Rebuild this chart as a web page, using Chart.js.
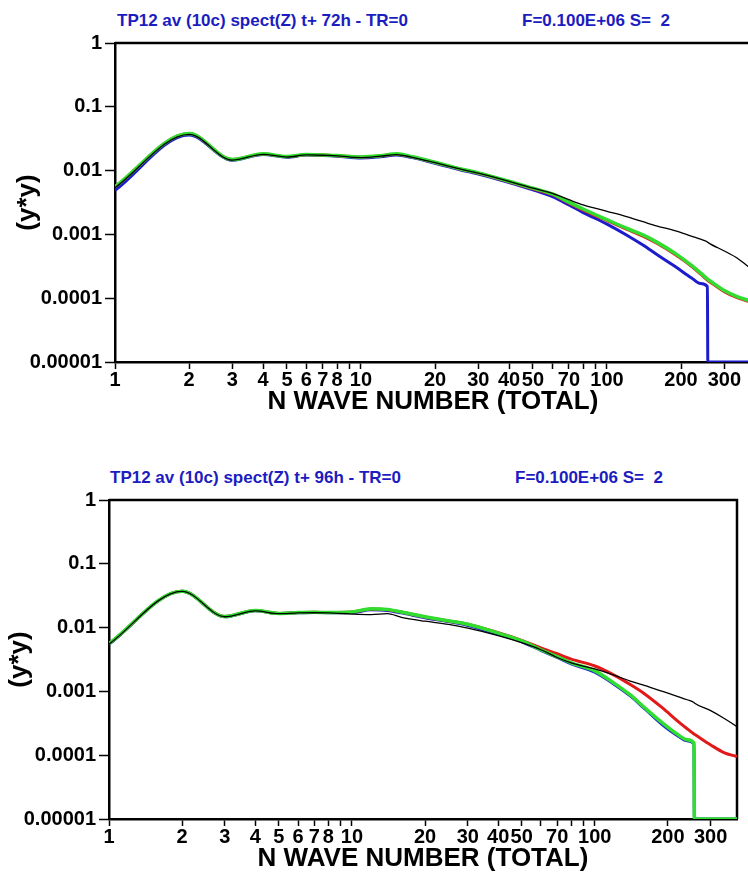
<!DOCTYPE html>
<html>
<head>
<meta charset="utf-8">
<script src="https://cdn.jsdelivr.net/npm/chart.js@4.4.1/dist/chart.umd.min.js"></script>
<style>
  html, body { margin: 0; padding: 0; background: #fff; width: 748px; height: 873px; overflow: hidden; }
  .panel { position: absolute; left: 0; }
  .ttl { position: absolute; color: #1c1cc0; font: bold 17px "Liberation Sans", Arial, sans-serif; line-height: 17px; white-space: pre; }
</style>
</head>
<body>
<div class="ttl" style="left:117px; top:12px">TP12 av (10c) spect(Z) t+ 72h - TR=0</div>
<div class="ttl" style="left:522px; top:12px">F=0.100E+06 S=  2</div>
<div class="ttl" style="left:110px; top:469px">TP12 av (10c) spect(Z) t+ 96h - TR=0</div>
<div class="ttl" style="left:515px; top:469px">F=0.100E+06 S=  2</div>

<div class="panel" style="top:0"><canvas id="c72" width="756" height="422"></canvas></div>
<div class="panel" style="top:457px"><canvas id="c96" width="745" height="422"></canvas></div>

<script>
// wave numbers sampled along the curves
const waveN = [1, 2, 3, 4, 5, 6, 7, 8, 10, 12, 14, 16, 20, 25, 30, 40, 50, 60, 70, 80,
               100, 120, 140, 160, 190, 220, 240, 256, 257, 300, 340, 385];

// t+72h
const black72 = [0.0054, 0.037, 0.0146, 0.0180, 0.0163, 0.0176, 0.0174, 0.0170, 0.0160, 0.0168, 0.0178, 0.0163, 0.0133, 0.0107, 0.0091, 0.0068, 0.0053, 0.0044, 0.0035, 0.0029,
                 0.0023, 0.0019, 0.00158, 0.00135, 0.00114, 0.00094, 0.00084, 0.00076, 0.00075, 0.00055, 0.00042, 0.00029];
const green72 = [0.0056, 0.038, 0.0149, 0.0183, 0.0166, 0.0178, 0.0176, 0.0172, 0.0164, 0.0171, 0.0183, 0.0166, 0.0135, 0.0108, 0.0092, 0.0068, 0.0053, 0.0043, 0.0032, 0.0025,
                 0.0017, 0.00125, 0.00098, 0.00075, 0.00050, 0.00033, 0.00025, 0.00020, 0.000198, 0.000132, 0.000105, 0.000090];
const red72   = [0.0056, 0.038, 0.0149, 0.0182, 0.0165, 0.0177, 0.0175, 0.0171, 0.0163, 0.0170, 0.0181, 0.0165, 0.0134, 0.0107, 0.0091, 0.0067, 0.0052, 0.0042, 0.0031, 0.0024,
                 0.00165, 0.00121, 0.00094, 0.00072, 0.00048, 0.00032, 0.00024, 0.000192, 0.00019, 0.000127, 0.000101, 0.000087];
const blue72  = [0.0049, 0.036, 0.0145, 0.0179, 0.0162, 0.0175, 0.0172, 0.0168, 0.0158, 0.0165, 0.0175, 0.0161, 0.0130, 0.0104, 0.0088, 0.0065, 0.0050, 0.0039, 0.0029, 0.0022,
                 0.00145, 0.00098, 0.00068, 0.00048, 0.00031, 0.00021, 0.00017, 0.000152, 0.00001, 0.00001, 0.00001, 0.00001];

// t+96h
const black96 = [0.0055, 0.037, 0.0148, 0.0183, 0.0165, 0.0170, 0.0171, 0.0170, 0.0163, 0.0160, 0.0165, 0.0145, 0.0126, 0.0112, 0.0098, 0.0075, 0.0058, 0.0045, 0.0034, 0.0028,
                 0.00225, 0.0018, 0.00145, 0.00124, 0.00100, 0.00083, 0.00074, 0.00067, 0.00066, 0.00050, 0.00038, 0.00028];
const green96 = [0.0056, 0.037, 0.0149, 0.0185, 0.0167, 0.0172, 0.0174, 0.0172, 0.0176, 0.0198, 0.0193, 0.0176, 0.0148, 0.0128, 0.0113, 0.0082, 0.0062, 0.0045, 0.0035, 0.0028,
                 0.0021, 0.00135, 0.00088, 0.00056, 0.00032, 0.00021, 0.000175, 0.000155, 0.00001, 0.00001, 0.00001, 0.00001];
const red96   = [0.0056, 0.037, 0.0149, 0.0185, 0.0167, 0.0172, 0.0174, 0.0172, 0.0175, 0.0196, 0.0191, 0.0175, 0.0147, 0.0127, 0.0113, 0.0083, 0.0063, 0.0048, 0.0039, 0.0032,
                 0.0025, 0.0018, 0.00128, 0.00092, 0.00055, 0.00034, 0.00026, 0.000215, 0.000213, 0.000145, 0.00011, 0.000095];
const blue96  = [0.0055, 0.037, 0.0148, 0.0184, 0.0166, 0.0171, 0.0173, 0.0171, 0.0172, 0.0190, 0.0186, 0.0170, 0.0143, 0.0124, 0.0108, 0.0079, 0.0060, 0.0044, 0.0034, 0.0027,
                 0.0020, 0.0013, 0.00085, 0.00054, 0.00030, 0.000200, 0.000168, 0.000150, 0.00001, 0.00001, 0.00001, 0.00001];

// axes
const xTicks = [1, 2, 3, 4, 5, 6, 7, 8, 9, 10, 20, 30, 40, 50, 60, 70, 80, 90, 100, 200, 300];
const xLabelled = [1, 2, 3, 4, 5, 6, 7, 8, 10, 20, 30, 40, 50, 70, 100, 200, 300];
const yTicks = [0.00001, 0.0001, 0.001, 0.01, 0.1, 1];
const yTickLabels = ['0.00001', '0.0001', '0.001', '0.01', '0.1', '1'];

const FAMILY = '"Liberation Sans", Arial, Helvetica, sans-serif';
const TICK_FONT = { family: FAMILY, weight: 'bold', size: 20 };
const AXIS_FONT = { family: FAMILY, weight: 'bold', size: 26 };
const BLUE = 'rgb(28, 28, 205)';
const GREEN = 'rgb(48, 222, 48)';
const RED = 'rgb(225, 25, 25)';

// top and right edges of the plot frame
const framePlugin = {
  id: 'frame',
  beforeDatasetsDraw(chart) {
    const { ctx, chartArea: a } = chart;
    ctx.save();
    ctx.strokeStyle = '#000';
    ctx.lineWidth = 2.5;
    ctx.beginPath();
    ctx.moveTo(a.left, a.top);
    ctx.lineTo(a.right, a.top);
    ctx.lineTo(a.right, a.bottom);
    ctx.stroke();
    ctx.restore();
  }
};

function spectrumChart(id, s, lay) {
  const pts = vals => waveN.map((n, i) => ({ x: n, y: vals[i] }));
  return new Chart(document.getElementById(id), {
    type: 'line',
    data: {
      datasets: [
        { data: pts(s.black), borderColor: '#000', borderWidth: 1.3 },
        { data: pts(s.green), borderColor: GREEN, borderWidth: 3.5 },
        { data: pts(s.red), borderColor: RED, borderWidth: 3 },
        { data: pts(s.blue), borderColor: BLUE, borderWidth: 3 },
      ]
    },
    options: {
      responsive: false,
      animation: false,
      devicePixelRatio: 1,
      layout: { padding: { top: 43, right: lay.padRight, left: 0, bottom: 0 } },
      elements: {
        point: { radius: 0 },
        line: { cubicInterpolationMode: 'monotone', borderJoinStyle: 'round', fill: false }
      },
      plugins: { legend: { display: false }, tooltip: { enabled: false } },
      scales: {
        x: {
          type: 'logarithmic', min: 1, max: 385, position: 'bottom',
          afterBuildTicks: sc => { sc.ticks = xTicks.map(v => ({ value: v })); },
          afterFit: sc => { sc.height = 60; },
          ticks: {
            autoSkip: false, maxRotation: 0, color: '#000', font: TICK_FONT, padding: -1,
            callback: v => xLabelled.includes(v) ? String(v) : ''
          },
          grid: { drawOnChartArea: false, drawTicks: true, tickLength: 7, tickWidth: 1.5, tickColor: '#000' },
          border: { display: true, color: '#000', width: 2.5 },
          title: { display: true, text: 'N WAVE NUMBER (TOTAL)', color: '#000', font: AXIS_FONT, padding: { top: 0, bottom: 5 } }
        },
        y: {
          type: 'logarithmic', min: 0.00001, max: 1, position: 'left',
          afterBuildTicks: sc => { sc.ticks = yTicks.map(v => ({ value: v })); },
          afterFit: sc => { sc.width = lay.left; },
          ticks: {
            autoSkip: false, color: '#000', font: TICK_FONT, padding: 3,
            callback: v => yTickLabels[yTicks.indexOf(v)]
          },
          grid: { drawOnChartArea: false, drawTicks: true, tickLength: 10, tickWidth: 1.5, tickColor: '#000' },
          border: { display: true, color: '#000', width: 2.5 },
          title: { display: true, text: '(y*y)', color: '#000', font: AXIS_FONT, padding: { top: lay.yTitlePad, bottom: 0 } }
        }
      }
    },
    plugins: [framePlugin]
  });
}

spectrumChart('c72', { black: black72, green: green72, red: red72, blue: blue72 },
  { left: 115, padRight: 5, yTitlePad: 12 });
spectrumChart('c96', { black: black96, green: green96, red: red96, blue: blue96 },
  { left: 109, padRight: 8, yTitlePad: 4 });
</script>
</body>
</html>
